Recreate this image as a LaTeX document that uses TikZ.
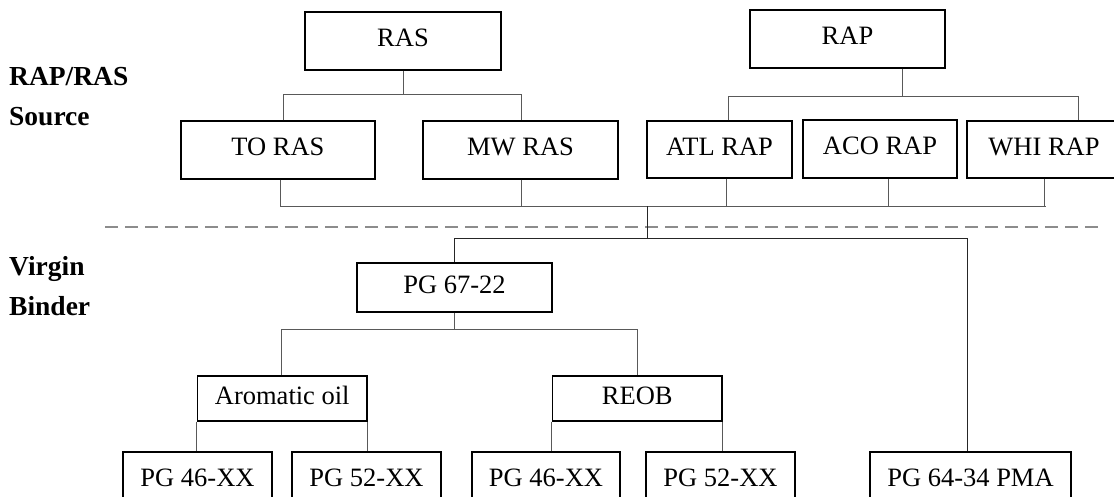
\documentclass[tikz,border=0pt]{standalone}
\usepackage{fontspec}
\setmainfont{Liberation Serif}
\begin{document}
\begin{tikzpicture}[x=1pt,y=-1pt,
  box/.style={draw=black, line width=1.3pt, inner sep=0pt, text height=18.5pt, text depth=6.6pt, font=\fontsize{26.5}{30}\selectfont},
  conn/.style={draw=black!65, line width=1pt},
  trunk/.style={draw=black!85, line width=1pt},
  lbl/.style={font=\fontsize{27.5}{30}\selectfont\bfseries, anchor=base west, inner sep=0pt},
  sep/.style={draw=black!45, line width=2.6pt, dash pattern=on 13pt off 7pt}]
\useasboundingbox (0,0) rectangle (1114,496);
\clip (0,0) rectangle (1114,496);

% labels
\node[lbl] (l1) at (9,85) {RAP/RAS};
\node[lbl] (l2) at (9,125) {Source};
\node[lbl] (l3) at (9,275) {Virgin};
\node[lbl] (l4) at (9,315) {Binder};

% boxes
\node[box, minimum width=196pt, minimum height=58pt] (ras) at (403,41) {RAS};
\node[box, minimum width=195pt, minimum height=58pt] (rap) at (847.5,39) {RAP};
\node[box, minimum width=194pt, minimum height=58pt] (toras) at (278,150) {TO RAS};
\node[box, minimum width=195pt, minimum height=58pt] (mwras) at (520.5,150) {MW RAS};
\node[box, minimum width=145pt, minimum height=57pt] (atl) at (719.5,149.5) {ATL RAP};
\node[box, minimum width=154pt, minimum height=58pt] (aco) at (880,149) {ACO RAP};
\node[box, minimum width=154pt, minimum height=57pt] (whi) at (1044,149.5) {WHI RAP};
\node[box, minimum width=195pt, minimum height=49pt] (pg67) at (454.5,287.5) {PG 67-22};
\node[box, minimum width=169.5pt, minimum height=45pt] (arom) at (282.25,398.5) {Aromatic oil};
\node[box, minimum width=169.5pt, minimum height=45pt] (reob) at (637.25,398.5) {REOB};
\node[box, minimum width=149pt, minimum height=58pt] (pga) at (197.5,481) {PG 46-XX};
\node[box, minimum width=149pt, minimum height=58pt] (pgb) at (366.5,481) {PG 52-XX};
\node[box, minimum width=148pt, minimum height=58pt] (pgc) at (546,481) {PG 46-XX};
\node[box, minimum width=149pt, minimum height=58pt] (pgd) at (720.5,481) {PG 52-XX};
\node[box, minimum width=201pt, minimum height=58pt] (pma) at (970.5,481) {PG 64-34 PMA};

% separator
\coordinate (s1) at (105,227);
\coordinate (s2) at (1102,227);
\draw[sep] (s1) -- (s2);

% RAS tree
\coordinate (a1) at (283,94);
\coordinate (a2) at (521,94);
\draw[conn] (ras.south) -- (ras.south |- a1);
\draw[conn] (a1 |- toras.north) -- (a1) -- (a2) -- (a2 |- mwras.north);

% RAP tree
\coordinate (b0) at (902.5,96);
\coordinate (b1) at (728,96);
\coordinate (b2) at (1078,96);
\draw[conn] (b0 |- rap.south) -- (b0);
\draw[conn] (b1 |- atl.north) -- (b1) -- (b2) -- (b2 |- whi.north);

% collector
\coordinate (c1) at (280,206);
\coordinate (c2) at (521,206);
\coordinate (c3) at (726,206);
\coordinate (c4) at (888,206);
\coordinate (c5) at (1044,206);
\coordinate (c6) at (1046,206);
\draw[conn] (c1 |- toras.south) -- (c1) -- (c6);
\draw[conn] (c2 |- mwras.south) -- (c2);
\draw[conn] (c3 |- atl.south) -- (c3);
\draw[conn] (c4 |- aco.south) -- (c4);
\draw[conn] (c5 |- whi.south) -- (c5);

% trunk
\coordinate (t0) at (647,206);
\coordinate (t1) at (647,238);
\coordinate (t2) at (967,238);
\draw[trunk] (t0) -- (t1);
\draw[trunk] (pg67.north) -- (pg67.north |- t1) -- (t2) -- (t2 |- pma.north);

% PG 67-22 tree
\coordinate (d1) at (281,329);
\coordinate (d2) at (637,329);
\draw[conn] (pg67.south) -- (pg67.south |- d1);
\draw[conn] (d1 |- arom.north) -- (d1) -- (d2) -- (d2 |- reob.north);

% modifiers to grades
\draw[conn] (arom.south west) -- (arom.south west |- pga.north);
\draw[conn] (arom.south east) -- (arom.south east |- pgb.north);
\draw[conn] (reob.south west) -- (reob.south west |- pgc.north);
\draw[conn] (reob.south east) -- (reob.south east |- pgd.north);
\end{tikzpicture}
\end{document}
